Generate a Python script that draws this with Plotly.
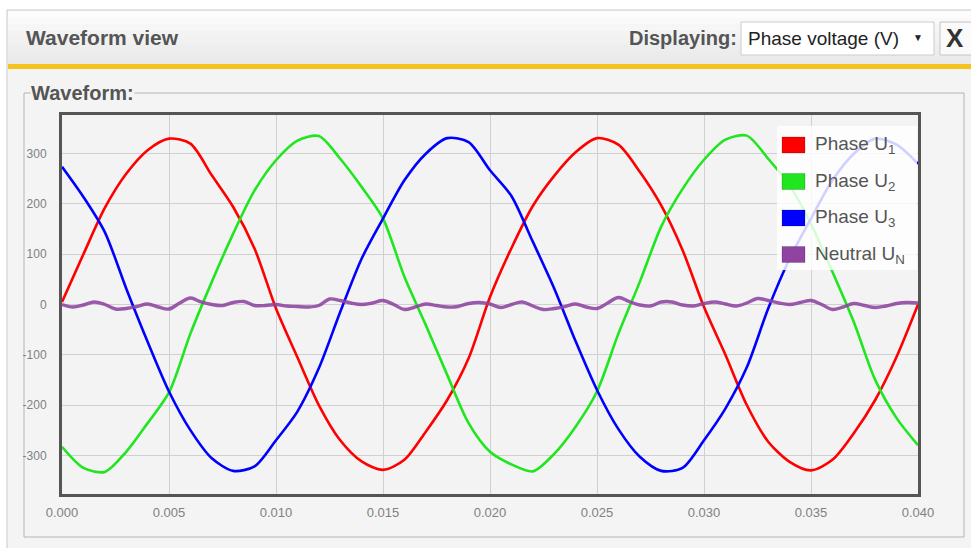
import plotly.graph_objects as go

# ---------------- data ----------------
t_phase = [0.000, 0.001, 0.002, 0.003, 0.004, 0.005, 0.006, 0.007, 0.008, 0.009,
           0.010, 0.011, 0.012, 0.013, 0.014, 0.015, 0.016, 0.017, 0.018, 0.019,
           0.020, 0.021, 0.022, 0.023, 0.024, 0.025, 0.026, 0.027, 0.028, 0.029,
           0.030, 0.031, 0.032, 0.033, 0.034, 0.035, 0.036, 0.037, 0.038, 0.039,
           0.040]

phase_u1 = [5, 100, 192, 260, 307, 330, 320, 257, 194, 111,
            -8, -105, -200, -270, -312, -329, -309, -253, -190, -107,
            15, 112, 196, 256, 303, 331, 318, 264, 197, 108,
            -5, -100, -200, -273, -313, -330, -309, -256, -190, -104,
            0]

phase_u2 = [-283, -325, -333, -293, -236, -175, -58, 45, 141, 227,
            287, 326, 335, 290, 234, 171, 55, -41, -140, -236,
            -293, -318, -332, -297, -243, -173, -58, 45, 155, 230,
            288, 328, 336, 290, 237, 160, 65, -35, -150, -226,
            -280]

phase_u3 = [274, 214, 144, 32, -74, -173, -250, -306, -331, -322,
            -270, -213, -127, -15, 91, 171, 247, 300, 331, 323,
            267, 216, 125, 32, -73, -170, -248, -303, -331, -325,
            -270, -207, -125, -8, 91, 171, 247, 300, 330, 318,
            280]

t_neutral = [0.0000, 0.0005, 0.0010, 0.0015, 0.0020, 0.0025, 0.0030, 0.0035, 0.0040, 0.0045,
             0.0050, 0.0055, 0.0060, 0.0065, 0.0070, 0.0075, 0.0080, 0.0085, 0.0090, 0.0095,
             0.0100, 0.0105, 0.0110, 0.0115, 0.0120, 0.0125, 0.0130, 0.0135, 0.0140, 0.0145,
             0.0150, 0.0155, 0.0160, 0.0165, 0.0170, 0.0175, 0.0180, 0.0185, 0.0190, 0.0195,
             0.0200, 0.0205, 0.0210, 0.0215, 0.0220, 0.0225, 0.0230, 0.0235, 0.0240, 0.0245,
             0.0250, 0.0255, 0.0260, 0.0265, 0.0270, 0.0275, 0.0280, 0.0285, 0.0290, 0.0295,
             0.0300, 0.0305, 0.0310, 0.0315, 0.0320, 0.0325, 0.0330, 0.0335, 0.0340, 0.0345,
             0.0350, 0.0355, 0.0360, 0.0365, 0.0370, 0.0375, 0.0380, 0.0385, 0.0390, 0.0395,
             0.0400]

neutral_un = [0, -5, -1, 5, 0, -9, -8, -4, 1, -5,
              -9, 3, 13, 5, 0, -2, 4, 6, -2, -2,
              0, -3, -4, -5, -2, 11, 8, 3, 0, 3,
              8, 0, -10, -5, 1, -2, -5, -4, 2, 4,
              1, -6, 0, 5, -3, -10, -8, -4, 1, -5,
              -8, 3, 14, 6, -1, -3, 5, 5, -1, -3,
              2, 5, 1, -3, 3, 12, 8, 3, 0, 4,
              8, 0, -10, -5, 2, -2, -6, -3, 2, 4,
              3]

series_names = ["Phase U<sub>1</sub>", "Phase U<sub>2</sub>",
                "Phase U<sub>3</sub>", "Neutral U<sub>N</sub>"]
series_colors = ["#ff0000", "#1fe61f", "#0000ff", "#8e44a0"]

x_tick_vals = [0.000, 0.005, 0.010, 0.015, 0.020, 0.025, 0.030, 0.035, 0.040]
x_tick_text = ["0.000", "0.005", "0.010", "0.015", "0.020", "0.025", "0.030", "0.035", "0.040"]
y_tick_vals = [-300, -200, -100, 0, 100, 200, 300]
y_tick_text = ["-300", "-200", "-100", "0", "100", "200", "300"]

# ---------------- layout helpers ----------------
W, H = 971, 548
PL, PR, PT, PB = 62, 918, 115, 494
FONT = "Arial, Liberation Sans, sans-serif"
PANEL = "#f4f4f4"


def px(x):
    return (x - PL) / (PR - PL)


def py(y):
    return (PB - y) / (PB - PT)


def rect(x0, y0, x1, y1, fill=None, line=None, lw=1, layer="below"):
    return dict(type="rect", xref="paper", yref="paper",
                x0=px(x0), x1=px(x1), y0=py(y1), y1=py(y0),
                fillcolor=fill if fill else "rgba(0,0,0,0)",
                line=dict(color=line if line else "rgba(0,0,0,0)", width=lw if line else 0),
                layer=layer)


def text(x, y, s, size, color="#555", bold=False, xanchor="left", bg=None):
    return dict(xref="paper", yref="paper", x=px(x), y=py(y), text=(f"<b>{s}</b>" if bold else s),
                showarrow=False, xanchor=xanchor, yanchor="middle",
                font=dict(family=FONT, size=size, color=color),
                bgcolor=bg if bg else "rgba(0,0,0,0)", borderpad=0)


fig = go.Figure()

fig.add_trace(go.Scatter(x=t_phase, y=phase_u1, mode="lines", name=series_names[0],
                         line=dict(color=series_colors[0], width=2.6, shape="spline", smoothing=0.8)))
fig.add_trace(go.Scatter(x=t_phase, y=phase_u2, mode="lines", name=series_names[1],
                         line=dict(color=series_colors[1], width=2.6, shape="spline", smoothing=0.8)))
fig.add_trace(go.Scatter(x=t_phase, y=phase_u3, mode="lines", name=series_names[2],
                         line=dict(color=series_colors[2], width=2.6, shape="spline", smoothing=0.8)))
fig.add_trace(go.Scatter(x=t_neutral, y=neutral_un, mode="lines", name=series_names[3],
                         line=dict(color=series_colors[3], width=3.4, shape="spline", smoothing=1.0),
                         opacity=0.88))

shapes = []
# panel background
shapes.append(rect(7, 10, 990, 560, fill=PANEL, line="#c9c9c9"))
# header gradient
stripes = ["#fcfcfc", "#f9f9f9", "#f6f6f6", "#f3f3f3", "#f1f1f1", "#eeeeee", "#ececec", "#eaeaea"]
y0 = 11
step = (64 - 11) / len(stripes)
for i, c in enumerate(stripes):
    shapes.append(rect(8, y0 + i * step, 990, y0 + (i + 1) * step + 0.5, fill=c))
# yellow band
shapes.append(rect(8, 64, 990, 69, fill="#f6c31c"))
# fieldset
shapes.append(rect(24, 93, 964, 537, line="#b4b4b4"))
# dropdown
shapes.append(rect(741, 22, 934, 55, fill="#ffffff", line="#cccccc"))
# close button
shapes.append(rect(940, 22, 990, 55, fill="#fafafa", line="#c4c4c4"))
# plot background
shapes.append(rect(PL, PT, PR, PB, fill="#f3f3f3"))

# custom legend
shapes.append(rect(777, 126, 917, 270, fill="rgba(255,255,255,0.82)", layer="above"))
legend_y = [145, 181.5, 218, 254.5]
for yy, c in zip(legend_y, series_colors):
    shapes.append(rect(782, yy - 8, 805, yy + 8, fill=c, line="rgba(0,0,0,0.18)", layer="above"))

annotations = [
    text(25, 38, "Waveform view", 21, bold=True),
    text(738, 38, "Displaying:", 20, bold=True, xanchor="right"),
    text(747, 38.5, "Phase voltage (V)", 19, color="#222"),
    text(918, 37, "▼", 10, color="#222", xanchor="center"),
    text(955, 38, "X", 26, color="#333", bold=True, xanchor="center"),
    text(30, 93, "Waveform:", 20, bold=True, bg=PANEL),
]
for yy, name in zip(legend_y, series_names):
    annotations.append(text(814, yy, name, 19, color="#555"))

fig.update_layout(
    width=W, height=H,
    margin=dict(l=PL, r=W - PR, t=PT, b=H - PB, pad=0),
    paper_bgcolor="#ffffff",
    plot_bgcolor="#f3f3f3",
    showlegend=False,
    shapes=shapes,
    annotations=annotations,
    font=dict(family=FONT),
)
fig.update_xaxes(range=[0, 0.04], tickvals=x_tick_vals, ticktext=x_tick_text,
                 showgrid=True, gridcolor="#d0d0d0", gridwidth=1, zeroline=False,
                 showline=True, mirror=True, linecolor="#555555", linewidth=3,
                 ticks="outside", ticklen=4, tickcolor="rgba(0,0,0,0)",
                 tickfont=dict(family=FONT, size=13, color="#808080"))
fig.update_yaxes(range=[-377, 377], tickvals=y_tick_vals, ticktext=y_tick_text,
                 showgrid=True, gridcolor="#d0d0d0", gridwidth=1, zeroline=False,
                 showline=True, mirror=True, linecolor="#555555", linewidth=3,
                 ticks="outside", ticklen=10, tickcolor="rgba(0,0,0,0)",
                 tickfont=dict(family=FONT, size=12, color="#808080"))

fig.write_html("out.html", config={"displayModeBar": False},
               post_script="document.body.style.margin='0px';")
